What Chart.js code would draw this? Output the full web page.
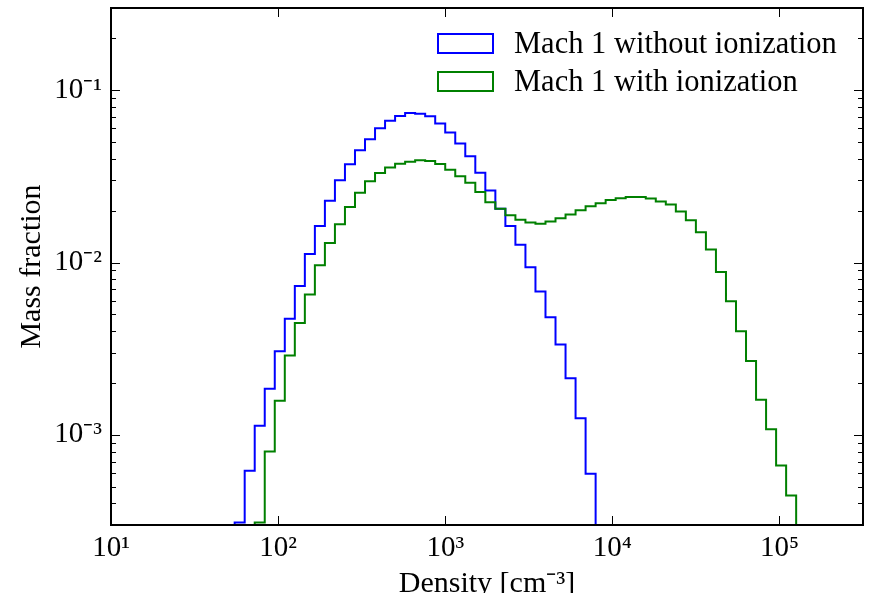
<!DOCTYPE html>
<html>
<head>
<meta charset="utf-8">
<script src="https://cdn.jsdelivr.net/npm/chart.js@4/dist/chart.umd.min.js"></script>
<style>
  html, body { margin: 0; padding: 0; background: #fff; }
  #wrap { width: 870px; height: 593px; }
</style>
</head>
<body>
<div id="wrap"><canvas id="c" width="870" height="593"></canvas></div>
<script>
// ---- Data ----
// Histogram bin edges, log10(density [cm^-3])
const binEdgesLog = [
  1.74, 1.80, 1.86, 1.92, 1.98, 2.04, 2.10, 2.16, 2.22, 2.28,
  2.34, 2.40, 2.46, 2.52, 2.58, 2.64, 2.70, 2.76, 2.82, 2.88,
  2.94, 3.00, 3.06, 3.12, 3.18, 3.24, 3.30, 3.36, 3.42, 3.48,
  3.54, 3.60, 3.66, 3.72, 3.78, 3.84, 3.90, 3.96, 4.02, 4.08,
  4.14, 4.20, 4.26, 4.32, 4.38, 4.44, 4.50, 4.56, 4.62, 4.68,
  4.74, 4.80, 4.86, 4.92, 4.98, 5.04, 5.10
];
// Mass fraction per bin (0 = empty bin)
const withoutIonization = [
  0.00031, 0.00062, 0.00113, 0.00185, 0.00306, 0.00472, 0.00731, 0.0112, 0.0163, 0.0228,
  0.0300, 0.0372, 0.0449, 0.0519, 0.0601, 0.0664, 0.0709, 0.0738, 0.0731, 0.0706,
  0.0641, 0.0568, 0.0490, 0.0414, 0.0332, 0.0262, 0.0205, 0.0163, 0.0127, 0.0094,
  0.0068, 0.00482, 0.00335, 0.00213, 0.00125, 0.000594, 0, 0, 0, 0,
  0, 0, 0, 0, 0, 0, 0, 0, 0, 0,
  0, 0, 0, 0, 0, 0
];
const withIonization = [
  0, 0, 0.00031, 0.00080, 0.00158, 0.00289, 0.00446, 0.00653, 0.00964, 0.0130,
  0.0167, 0.0210, 0.0254, 0.0296, 0.0331, 0.0356, 0.0375, 0.0384, 0.0392, 0.0388,
  0.0373, 0.0346, 0.0317, 0.0290, 0.0257, 0.0224, 0.0205, 0.0188, 0.0177, 0.0171,
  0.0168, 0.0173, 0.0181, 0.0190, 0.0201, 0.0212, 0.0221, 0.0231, 0.0236, 0.0240,
  0.0240, 0.0235, 0.0226, 0.0217, 0.0198, 0.0176, 0.0150, 0.0119, 0.00881, 0.00596,
  0.00400, 0.00268, 0.00160, 0.00108, 0.000664, 0.000445
];
const seriesNames = ['Mach 1 without ionization', 'Mach 1 with ionization'];
const xTickValues = [1e1, 1e2, 1e3, 1e4, 1e5];
const xTickLabels = ['10\u00B9', '10\u00B2', '10\u00B3', '10\u2074', '10\u2075'];
const yTickValues = [1e-3, 1e-2, 1e-1];
const yTickLabels = ['10\u207B\u00B3', '10\u207B\u00B2', '10\u207B\u00B9'];
const xRange = [10, 316228];
const yRange = [3e-4, 0.3];
const xTitle = 'Density [cm\u207B\u00B3]';
const yTitle = 'Mass fraction';

// ---- Build step-histogram outlines ----
const edges = binEdgesLog.map(l => Math.pow(10, l));
const FLOOR = yRange[0];
function stepPoints(values) {
  const pts = [];
  let prevZero = true;
  for (let k = 0; k < values.length; k++) {
    const v = values[k];
    if (v > 0) {
      if (prevZero) pts.push({x: edges[k], y: FLOOR});
      pts.push({x: edges[k], y: v});
      prevZero = false;
    } else {
      if (!prevZero) {
        pts.push({x: edges[k], y: values[k - 1]});
        pts.push({x: edges[k], y: FLOOR});
      }
      prevZero = true;
    }
  }
  if (!prevZero) {
    const n = values.length;
    pts.push({x: edges[n], y: values[n - 1]});
    pts.push({x: edges[n], y: FLOOR});
  }
  return pts;
}

const FONT = "'Liberation Serif', 'Times New Roman', serif";
Chart.defaults.font.family = FONT;
Chart.defaults.color = '#000';

const colors = ['#0000ff', '#008000'];

const framePlugin = {
  id: 'frame',
  afterDatasetsDraw(chart) {
    const {ctx, chartArea: a, scales: {x, y}} = chart;
    ctx.save();
    ctx.strokeStyle = '#000';
    ctx.lineWidth = 1;
    ctx.beginPath();
    // x major ticks (inward, bottom and top)
    xTickValues.forEach(v => {
      const px = Math.round(x.getPixelForValue(v)) + 0.5;
      ctx.moveTo(px, a.bottom); ctx.lineTo(px, a.bottom - 9);
      ctx.moveTo(px, a.top); ctx.lineTo(px, a.top + 9);
    });
    // y major & minor ticks (inward, left and right)
    for (let e = -4; e <= 0; e++) {
      for (let m = 1; m <= 9; m++) {
        const v = m * Math.pow(10, e);
        if (v < yRange[0] || v > yRange[1]) continue;
        const py = Math.round(y.getPixelForValue(v)) + 0.5;
        const len = m === 1 ? 9 : 5;
        ctx.moveTo(a.left, py); ctx.lineTo(a.left + len, py);
        ctx.moveTo(a.right, py); ctx.lineTo(a.right - len, py);
      }
    }
    ctx.stroke();
    // frame
    ctx.lineWidth = 2;
    ctx.strokeRect(a.left, a.top, a.right - a.left, a.bottom - a.top);
    // legend
    ctx.font = '30.5px ' + FONT;
    ctx.textBaseline = 'middle';
    ctx.textAlign = 'left';
    const rows = [43, 81];
    seriesNames.forEach((name, i) => {
      const cy = a.top + rows[i] - 7.5;
      ctx.strokeStyle = colors[i];
      ctx.lineWidth = 2;
      ctx.strokeRect(a.right - 425, cy - 9.5, 55, 19);
      ctx.fillStyle = '#000';
      ctx.fillText(name, a.right - 349, cy + 1);
    });
    ctx.restore();
  }
};

new Chart(document.getElementById('c'), {
  type: 'line',
  data: {
    datasets: [
      {
        label: seriesNames[0],
        data: stepPoints(withoutIonization),
        borderColor: colors[0],
        borderWidth: 2,
        pointRadius: 0,
        fill: false,
        stepped: 'before',
        order: 1
      },
      {
        label: seriesNames[1],
        data: stepPoints(withIonization),
        borderColor: colors[1],
        borderWidth: 2,
        pointRadius: 0,
        fill: false,
        stepped: 'before',
        order: 0
      }
    ]
  },
  options: {
    responsive: false,
    animation: false,
    devicePixelRatio: 1,
    layout: { padding: { top: 8, right: 7, left: 0, bottom: 0 } },
    plugins: { legend: { display: false }, tooltip: { enabled: false } },
    scales: {
      x: {
        type: 'logarithmic',
        min: xRange[0],
        max: xRange[1],
        grid: { display: false, drawTicks: false },
        border: { display: false },
        afterBuildTicks: s => { s.ticks = xTickValues.map(v => ({value: v})); },
        afterFit: s => { s.height = 68; s.paddingLeft = 0; s.paddingRight = 0; },
        ticks: {
          autoSkip: false,
          maxRotation: 0,
          padding: 6,
          font: { size: 29 },
          callback: (v, i) => xTickLabels[i]
        },
        title: {
          display: true,
          text: xTitle,
          font: { size: 30 },
          padding: { top: 0, bottom: -9 }
        }
      },
      y: {
        type: 'logarithmic',
        min: yRange[0],
        max: yRange[1],
        grid: { display: false, drawTicks: false },
        border: { display: false },
        afterBuildTicks: s => { s.ticks = yTickValues.map(v => ({value: v})); },
        afterFit: s => { s.width = 111; s.paddingTop = 0; s.paddingBottom = 0; },
        ticks: {
          autoSkip: false,
          padding: 9,
          font: { size: 29 },
          callback: (v, i) => yTickLabels[i]
        },
        title: {
          display: true,
          text: yTitle,
          font: { size: 30 },
          padding: { top: 14, bottom: 0 }
        }
      }
    }
  },
  plugins: [framePlugin]
});
</script>
</body>
</html>
